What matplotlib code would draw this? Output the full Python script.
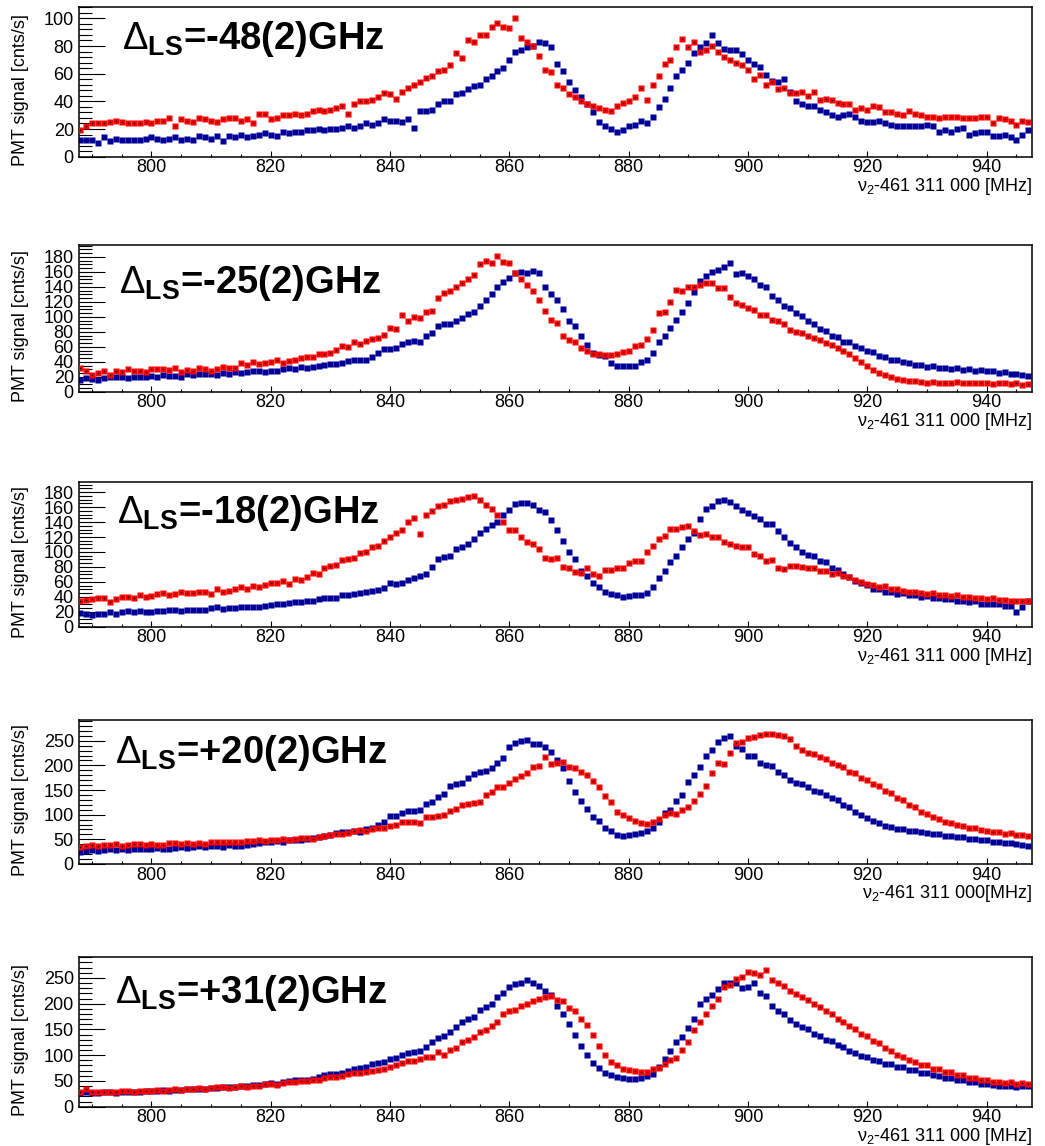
import numpy as np
import matplotlib
matplotlib.use("Agg")
import matplotlib.pyplot as plt
from matplotlib.ticker import MultipleLocator

plt.rcParams['font.family'] = ['Liberation Sans', 'DejaVu Sans']
plt.rcParams['mathtext.fontset'] = 'custom'
plt.rcParams['mathtext.rm'] = 'Liberation Sans'
plt.rcParams['mathtext.it'] = 'Liberation Sans'
plt.rcParams['mathtext.bf'] = 'Liberation Sans:bold'

# scan frequency, nu_2 - 461 311 000 MHz (1 MHz steps)
freq = np.arange(788.0, 948.0, 1.0)

titles = ["-48(2)GHz", "-25(2)GHz", "-18(2)GHz", "+20(2)GHz", "+31(2)GHz"]
xlabels = [r"$\nu_{2}$-461 311 000 [MHz]", r"$\nu_{2}$-461 311 000 [MHz]",
           r"$\nu_{2}$-461 311 000 [MHz]", r"$\nu_{2}$-461 311 000[MHz]",
           r"$\nu_{2}$-461 311 000 [MHz]"]
ylabel = "PMT signal [cnts/s]"

# ---- Delta_LS = -48(2) GHz ----
red_m48 = [19, 22, 24, 24, 24, 25, 26, 25, 24, 24,
           24, 25, 24, 26, 26, 28, 22, 27, 26, 25,
           28, 27, 26, 25, 27, 28, 28, 26, 27, 24,
           31, 31, 27, 28, 30, 30, 31, 30, 31, 33,
           34, 33, 34, 35, 37, 31, 38, 40, 40, 41,
           43, 46, 45, 42, 47, 50, 52, 54, 57, 58,
           62, 63, 66, 75, 71, 84, 83, 88, 88, 94,
           97, 94, 93, 100, 86, 83, 80, 73, 63, 61,
           52, 50, 45, 43, 40, 38, 37, 35, 34, 33,
           37, 39, 40, 43, 50, 41, 52, 58, 67, 70,
           79, 85, 79, 83, 76, 77, 80, 76, 72, 70,
           68, 66, 63, 56, 59, 52, 54, 49, 50, 46,
           46, 47, 44, 47, 41, 42, 41, 39, 38, 38,
           34, 35, 34, 37, 36, 32, 32, 31, 30, 33,
           31, 30, 29, 29, 28, 29, 29, 29, 28, 28,
           28, 29, 29, 24, 28, 27, 26, 23, 26, 25]
blue_m48 = [12, 12, 12, 10, 14, 11, 13, 12, 12, 12,
            12, 13, 14, 13, 12, 13, 14, 12, 13, 12,
            15, 14, 13, 15, 11, 15, 14, 16, 14, 15,
            16, 17, 16, 15, 18, 17, 18, 18, 19, 19,
            20, 19, 20, 20, 21, 22, 21, 22, 24, 23,
            24, 27, 26, 26, 25, 27, 21, 33, 33, 34,
            38, 40, 40, 45, 46, 49, 51, 52, 56, 58,
            62, 64, 70, 76, 77, 79, 80, 83, 82, 79,
            67, 62, 54, 48, 43, 38, 32, 25, 22, 20,
            18, 19, 22, 23, 26, 24, 29, 36, 42, 50,
            58, 63, 68, 75, 79, 82, 88, 82, 78, 77,
            77, 74, 70, 67, 65, 59, 55, 54, 56, 47,
            40, 38, 37, 37, 34, 32, 30, 29, 30, 31,
            29, 26, 25, 25, 26, 24, 23, 22, 22, 22,
            22, 22, 23, 22, 18, 19, 18, 20, 21, 16,
            17, 18, 18, 15, 15, 16, 14, 12, 16, 19]

# ---- Delta_LS = -25(2) GHz ----
red_m25 = [31, 27, 22, 25, 27, 22, 28, 26, 30, 27,
           27, 26, 30, 30, 30, 29, 32, 26, 29, 28,
           31, 30, 27, 30, 33, 32, 31, 38, 36, 40,
           37, 38, 40, 42, 39, 41, 42, 45, 47, 47,
           50, 51, 52, 56, 61, 60, 66, 64, 68, 70,
           72, 76, 85, 84, 103, 94, 100, 98, 107, 108,
           125, 132, 135, 140, 145, 150, 156, 170, 174, 172,
           181, 173, 172, 158, 150, 143, 134, 122, 108, 96,
           92, 74, 69, 67, 58, 55, 51, 51, 49, 49,
           50, 53, 55, 61, 63, 71, 82, 105, 106, 120,
           136, 135, 140, 140, 142, 145, 145, 138, 139, 127,
           118, 116, 112, 109, 103, 103, 96, 95, 90, 82,
           80, 78, 74, 72, 69, 65, 62, 58, 55, 50,
           45, 40, 34, 29, 25, 22, 19, 17, 15, 14,
           14, 13, 12, 13, 11, 12, 12, 13, 11, 12,
           12, 11, 12, 10, 11, 11, 10, 11, 9, 10]
blue_m25 = [16, 18, 17, 16, 18, 19, 20, 19, 18, 20,
            20, 19, 21, 20, 22, 21, 21, 20, 23, 22,
            23, 23, 24, 22, 25, 24, 26, 25, 26, 27,
            27, 26, 27, 28, 30, 31, 30, 33, 32, 33,
            34, 36, 37, 37, 38, 41, 42, 43, 42, 46,
            52, 57, 57, 58, 64, 67, 68, 67, 74, 79,
            88, 90, 91, 95, 98, 104, 107, 115, 122, 130,
            140, 147, 152, 158, 160, 158, 161, 158, 140, 130,
            122, 110, 95, 88, 74, 62, 52, 49, 48, 38,
            35, 34, 35, 35, 40, 43, 52, 66, 75, 85,
            96, 106, 118, 133, 148, 155, 160, 162, 167, 172,
            157, 158, 155, 150, 142, 140, 128, 122, 115, 112,
            105, 101, 94, 91, 84, 81, 75, 73, 67, 66,
            61, 59, 54, 53, 48, 47, 43, 42, 40, 38,
            36, 36, 33, 34, 31, 32, 30, 31, 29, 30,
            28, 29, 27, 27, 25, 26, 23, 24, 22, 21]

# ---- Delta_LS = -18(2) GHz ----
red_m18 = [34, 36, 37, 38, 39, 33, 37, 40, 40, 38,
           42, 40, 41, 44, 45, 43, 44, 46, 45, 45,
           47, 46, 44, 50, 47, 48, 50, 53, 51, 54,
           53, 56, 59, 58, 61, 57, 64, 63, 66, 72,
           70, 78, 81, 82, 89, 91, 92, 98, 100, 107,
           108, 114, 120, 125, 129, 140, 145, 124, 150, 155,
           161, 163, 168, 170, 171, 173, 175, 169, 163, 158,
           150, 140, 130, 129, 120, 113, 110, 104, 92, 91,
           92, 80, 79, 73, 72, 79, 70, 68, 76, 76,
           79, 78, 85, 88, 88, 100, 108, 118, 122, 131,
           131, 134, 135, 128, 123, 124, 120, 120, 113, 110,
           108, 106, 106, 97, 95, 88, 89, 79, 77, 81,
           81, 80, 78, 79, 75, 74, 71, 72, 68, 66,
           62, 60, 57, 56, 53, 54, 50, 51, 48, 47,
           46, 45, 44, 45, 42, 43, 41, 42, 40, 40,
           38, 39, 37, 38, 36, 36, 35, 35, 34, 35]
blue_m18 = [18, 17, 16, 17, 17, 20, 17, 20, 21, 20,
            21, 20, 20, 21, 21, 22, 22, 21, 22, 23,
            23, 23, 25, 26, 24, 25, 25, 26, 27, 27,
            27, 28, 29, 31, 30, 32, 33, 33, 34, 35,
            37, 38, 39, 39, 42, 43, 44, 45, 46, 48,
            49, 52, 58, 57, 58, 63, 65, 68, 70, 80,
            90, 93, 95, 104, 106, 110, 117, 125, 131, 136,
            140, 150, 156, 164, 165, 165, 163, 156, 153, 143,
            130, 115, 100, 91, 75, 68, 58, 53, 46, 44,
            42, 40, 41, 42, 43, 45, 53, 65, 75, 86,
            95, 106, 118, 126, 144, 158, 162, 168, 170, 167,
            162, 156, 152, 148, 144, 138, 137, 128, 120, 112,
            106, 100, 96, 94, 88, 86, 79, 76, 70, 67,
            61, 58, 56, 51, 50, 47, 47, 44, 45, 42,
            42, 40, 41, 39, 38, 37, 37, 35, 35, 33,
            34, 31, 31, 30, 30, 28, 28, 20, 27, 35]

# ---- Delta_LS = +20(2) GHz ----
red_p20 = [35, 37, 38, 36, 39, 38, 40, 37, 39, 41,
           40, 38, 40, 38, 39, 42, 42, 40, 42, 40,
           42, 41, 45, 45, 44, 45, 44, 44, 47, 46,
           49, 47, 49, 49, 51, 48, 50, 52, 52, 51,
           55, 56, 58, 60, 61, 62, 66, 68, 67, 70,
           72, 73, 78, 80, 86, 86, 86, 83, 95, 95,
           98, 100, 108, 112, 119, 121, 123, 126, 140, 145,
           156, 156, 165, 173, 178, 185, 197, 198, 217, 202,
           205, 207, 197, 195, 186, 180, 168, 156, 138, 125,
           105, 100, 94, 87, 83, 82, 86, 92, 100, 104,
           101, 110, 115, 128, 141, 159, 185, 205, 202, 226,
           245, 248, 255, 258, 262, 264, 264, 261, 260, 253,
           240, 232, 226, 224, 217, 213, 205, 201, 196, 187,
           184, 175, 171, 162, 158, 149, 143, 134, 130, 120,
           115, 106, 102, 95, 92, 86, 84, 79, 78, 73,
           72, 68, 67, 64, 65, 61, 62, 59, 58, 57]
blue_p20 = [25, 27, 28, 27, 29, 30, 28, 30, 29, 31,
            30, 31, 30, 32, 31, 30, 33, 34, 33, 34,
            36, 35, 36, 37, 35, 38, 37, 36, 39, 40,
            42, 44, 45, 46, 45, 48, 49, 49, 51, 52,
            54, 56, 59, 62, 64, 65, 66, 65, 70, 73,
            80, 86, 97, 98, 103, 108, 108, 110, 122, 125,
            135, 142, 158, 162, 165, 175, 183, 186, 189, 195,
            205, 215, 238, 245, 250, 252, 243, 244, 238, 228,
            210, 195, 168, 145, 128, 112, 95, 88, 72, 66,
            58, 56, 58, 60, 62, 66, 72, 85, 103, 110,
            128, 140, 167, 180, 196, 220, 232, 248, 255, 260,
            240, 233, 220, 219, 205, 201, 198, 187, 180, 170,
            165, 162, 156, 149, 147, 140, 134, 129, 120, 115,
            106, 100, 94, 87, 83, 78, 76, 71, 71, 67,
            67, 64, 63, 61, 60, 57, 57, 54, 54, 51,
            51, 48, 48, 45, 45, 42, 42, 40, 38, 37]

# ---- Delta_LS = +31(2) GHz ----
red_p31 = [28, 35, 29, 28, 29, 29, 28, 30, 31, 29,
           30, 31, 31, 32, 31, 33, 34, 33, 35, 35,
           36, 34, 36, 38, 38, 37, 38, 40, 39, 41,
           41, 44, 44, 43, 46, 47, 48, 49, 50, 51,
           52, 55, 58, 58, 60, 63, 66, 65, 68, 70,
           72, 73, 78, 80, 84, 88, 89, 92, 97, 96,
           106, 100, 110, 114, 126, 130, 136, 145, 148, 157,
           165, 180, 185, 187, 195, 200, 205, 210, 212, 214,
           207, 205, 192, 186, 170, 158, 140, 118, 100, 86,
           80, 73, 71, 70, 68, 68, 73, 76, 83, 90,
           95, 110, 125, 148, 165, 180, 195, 210, 232, 236,
           247, 252, 262, 260, 256, 265, 245, 240, 234, 225,
           218, 212, 207, 199, 193, 185, 179, 170, 165, 156,
           151, 142, 137, 127, 123, 114, 109, 100, 97, 90,
           87, 81, 80, 74, 73, 68, 67, 62, 61, 56,
           56, 52, 51, 48, 48, 46, 47, 44, 46, 45]
blue_p31 = [27, 28, 27, 27, 28, 29, 27, 28, 28, 29,
            29, 30, 30, 31, 32, 31, 32, 33, 34, 34,
            35, 35, 36, 37, 38, 38, 39, 40, 41, 42,
            43, 45, 46, 45, 48, 50, 51, 51, 52, 54,
            57, 62, 63, 64, 66, 70, 74, 76, 77, 82,
            85, 86, 92, 95, 100, 104, 106, 108, 116, 125,
            134, 138, 145, 155, 164, 170, 175, 188, 193, 200,
            212, 220, 232, 239, 241, 245, 240, 234, 225, 217,
            195, 180, 160, 140, 118, 100, 85, 76, 66, 62,
            58, 56, 54, 53, 55, 60, 64, 78, 92, 108,
            125, 135, 152, 170, 199, 210, 216, 228, 241, 240,
            240, 230, 232, 240, 220, 215, 195, 186, 180, 168,
            160, 155, 150, 142, 138, 130, 127, 119, 116, 109,
            105, 99, 96, 90, 88, 83, 82, 78, 77, 72,
            71, 66, 65, 61, 60, 56, 56, 52, 51, 48,
            47, 44, 44, 42, 41, 41, 40, 39, 40, 40]

reds = [red_m48, red_m25, red_m18, red_p20, red_p31]
blues = [blue_m48, blue_m25, blue_m18, blue_p20, blue_p31]
y_max = [108, 196, 194, 292, 290]
y_major = [20, 20, 20, 50, 50]
y_minor = [4, 5, 5, 10, 10]

# layout in pixels
W, H = 1045, 1146
ax_left, ax_right = 78.7, 1032.0
ax_tops = [7.3, 245.0, 481.7, 720.0, 957.3]
ax_bots = [156.7, 391.7, 626.7, 864.0, 1106.7]
title_x = [121.7, 119.3, 116.7, 115.0, 115.0]
title_base = [49.3, 293.3, 523.3, 763.3, 1003.3]

RED = '#ff0000'
BLUE = '#000099'
FS = 13

fig = plt.figure(figsize=(W / 100, H / 100), dpi=100)

for i in range(5):
    top, bot = ax_tops[i], ax_bots[i]
    ax = fig.add_axes([ax_left / W, 1 - bot / H, (ax_right - ax_left) / W, (bot - top) / H])
    ax.plot(freq, blues[i], 's', color=BLUE, ms=3.9, mec='none', zorder=2)
    ax.plot(freq, reds[i], 's', color=RED, ms=4.2, mec='none', zorder=3)
    ax.plot(freq, reds[i], 's', color='black', ms=1.0, mec='none', zorder=4)
    ax.set_xlim(787.8, 947.6)
    ax.set_ylim(0, y_max[i])
    ax.xaxis.set_major_locator(MultipleLocator(20))
    ax.xaxis.set_minor_locator(MultipleLocator(5))
    ax.yaxis.set_major_locator(MultipleLocator(y_major[i]))
    ax.yaxis.set_minor_locator(MultipleLocator(y_minor[i]))
    ax.tick_params(axis='both', which='both', direction='in', top=False, right=False,
                   labelsize=FS, width=0.8, colors='black')
    ax.tick_params(axis='y', which='major', length=18.7, pad=3.5)
    ax.tick_params(axis='y', which='minor', length=9.4)
    ax.tick_params(axis='x', which='major', length=4.2, pad=2.0)
    ax.tick_params(axis='x', which='minor', length=2.1)
    for sp in ax.spines.values():
        sp.set_linewidth(1.1)

    fig.text(title_x[i] / W, 1 - title_base[i] / H,
             r'$\Delta_{\mathbf{LS}}$' + '=' + titles[i],
             fontsize=27.5, fontweight='bold', ha='left', va='baseline')
    fig.text(ax_right / W, 1 - (bot + 34) / H, xlabels[i],
             fontsize=FS, ha='right', va='baseline')
    fig.text(20.5 / W, 1 - ((top + bot) / 2 + 8) / H, ylabel,
             fontsize=FS, rotation=90, ha='center', va='center')

fig.savefig('out.png', dpi=100)
